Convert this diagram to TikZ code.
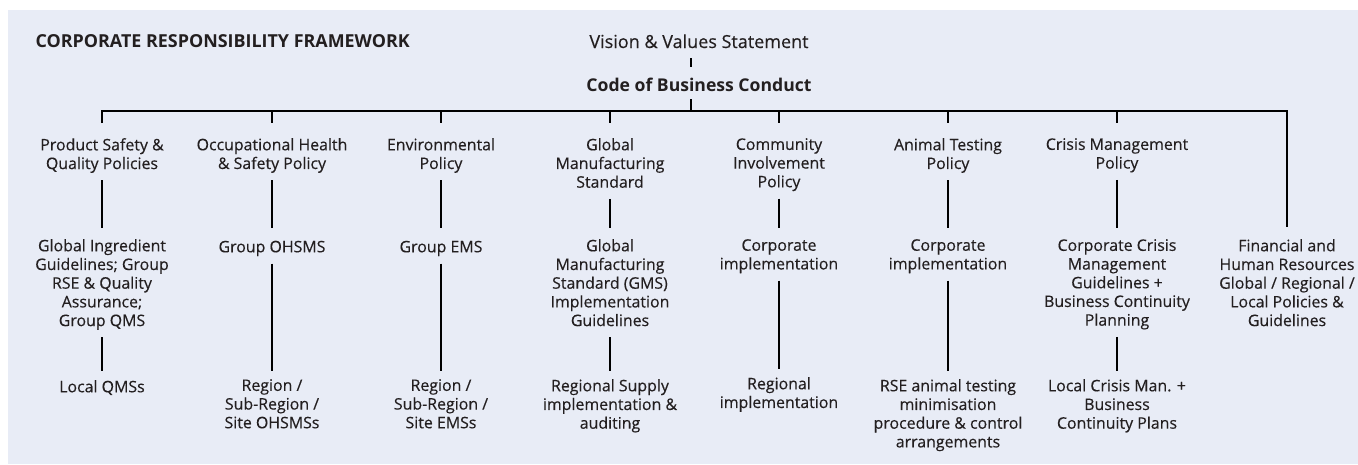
\documentclass[tikz,border=0pt]{standalone}
\usepackage{fontspec}
\setmainfont{Open Sans}[UprightFeatures={FakeBold=0.3}]
\usepackage{tikz}
\usetikzlibrary{positioning}
\usetikzlibrary{calc}
\definecolor{panelblue}{RGB}{232,236,246}
\definecolor{inkgray}{RGB}{35,31,32}

\tikzset{
  box/.style={align=center, inner sep=0pt, anchor=north, text=inkgray,
    font=\fontsize{15.9}{18.7}\selectfont,
    execute at begin node=\strut, execute at end node=\strut},
  head/.style={box, anchor=base, font=\fontsize{18}{18.7}\selectfont},
  link/.style={line width=2pt, shorten <=5.5pt},
}

\begin{document}
\begin{tikzpicture}[x=1pt, y=-1pt]
    \useasboundingbox (0,0) rectangle (1358,464);
    \fill[panelblue] (8,10) rectangle (1358,464);

    \node[anchor=base west, text=inkgray, font=\fontsize{17.9}{18.7}\selectfont\bfseries] (title) at (32,47) {CORPORATE RESPONSIBILITY FRAMEWORK};
    \node[head] (vision) at (699,48) {Vision \& Values Statement};
    \node[head, font=\fontsize{17.6}{18.7}\selectfont\bfseries] (code) at (699,91) {Code of Business Conduct};
    \coordinate (bar) at (691,111);

    % policies
    \node[box] (pol1) at (102,138) {Product Safety \&\\Quality Policies};
    \node[box] (pol2) at (272,138) {Occupational Health\\\& Safety Policy};
    \node[box] (pol3) at (441,138) {Environmental\\Policy};
    \node[box] (pol4) at (610,138) {Global\\Manufacturing\\Standard};
    \node[box] (pol5) at (779,138) {Community\\Involvement\\Policy};
    \node[box] (pol6) at (948,138) {Animal Testing\\Policy};
    \node[box] (pol7) at (1117,138) {Crisis Management\\Policy};

    % group systems and guidelines
    \node[box] (sys1) at (102,239) {Global Ingredient\\Guidelines; Group\\RSE \& Quality\\Assurance;\\Group QMS};
    \node[box] (sys2) at (272,239) {Group OHSMS};
    \node[box] (sys3) at (441,239) {Group EMS};
    \node[box] (sys4) at (610,239) {Global\\Manufacturing\\Standard (GMS)\\Implementation\\Guidelines};
    \node[box] (sys5) at (779,239) {Corporate\\implementation};
    \node[box] (sys6) at (948,239) {Corporate\\implementation};
    \node[box] (sys7) at (1117,239) {Corporate Crisis\\Management\\Guidelines +\\Business Continuity\\Planning};
    \node[box] (sys8) at (1287,239) {Financial and\\Human Resources\\Global / Regional /\\Local Policies \&\\Guidelines};

    % local level
    \node[box] (loc1) at (102,379) {Local QMSs};
    \node[box] (loc2) at (272,379) {Region /\\Sub-Region /\\Site OHSMSs};
    \node[box] (loc3) at (441,379) {Region /\\Sub-Region /\\Site EMSs};
    \node[box] (loc4) at (610,379) {Regional Supply\\implementation \&\\auditing};
    \node[box] (loc5) at (779,377) {Regional\\implementation};
    \node[box] (loc6) at (948,379) {RSE animal testing\\minimisation\\procedure \& control\\arrangements};
    \node[box] (loc7) at (1117,379) {Local Crisis Man. +\\Business\\Continuity Plans};

    \draw[link, shorten <=4.5pt, shorten >=10pt] (vision.south -| bar) -- (code.north -| bar);
    \draw[link, shorten <=2.5pt] (code.south -| bar) -- (bar);
    \draw[line width=2pt, shorten <=15pt, shorten >=12pt] (pol1.north) |- (bar) -| (sys8.north);
    \foreach \i in {2,...,7}
        \draw[line width=2pt, shorten >=15pt] (pol\i |- bar) -- (pol\i.north);
    \foreach \i in {1,...,7}
        \draw[link, shorten >=11pt] (pol\i) -- (sys\i);
    \foreach \i in {1,...,7}
        \draw[link, shorten >=8pt] (sys\i) -- (loc\i);
\end{tikzpicture}
\end{document}
